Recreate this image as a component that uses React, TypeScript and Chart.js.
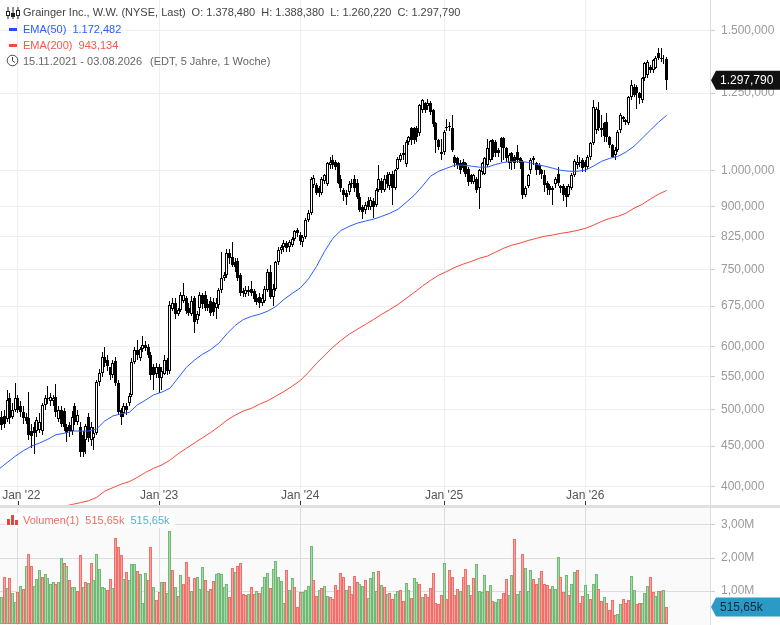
import { Chart, registerables } from "chart.js";
import { useEffect, useRef } from "react";

Chart.register(...registerables);

// weekly candles, 15.11.2021 - 03.08.2026
const opens = [
  495, 490, 491, 487, 517, 490, 500, 517, 505, 497,
  490, 488, 470, 475, 470, 472, 470, 507, 517, 512,
  512, 519, 487, 500, 498, 475, 478, 470, 505, 483,
  475, 465, 458, 490, 458, 460, 468, 541, 556, 583,
  578, 566, 552, 575, 540, 500, 495, 505, 510, 522,
  574, 594, 580, 596, 603, 600, 586, 565, 555, 566,
  548, 555, 578, 560, 670, 680, 660, 668, 685, 690,
  672, 660, 690, 648, 672, 696, 696, 678, 684, 682,
  672, 676, 706, 731, 738, 788, 778, 766, 768, 738,
  705, 698, 702, 710, 705, 690, 692, 680, 685, 708,
  745, 692, 710, 766, 793, 800, 811, 800, 805, 820,
  840, 830, 812, 825, 865, 883, 957, 957, 950, 936,
  970, 960, 1015, 1030, 1025, 1020, 975, 945, 935, 938,
  960, 975, 965, 925, 900, 890, 915, 900, 915, 905,
  945, 970, 945, 985, 955, 990, 950, 1005, 1030, 1045,
  1018, 1084, 1129, 1130, 1130, 1113, 1190, 1215, 1205, 1215,
  1190, 1145, 1091, 1048, 1054, 1130, 1132, 1130, 1040, 1035,
  1020, 1025, 1020, 1005, 985, 966, 975, 950, 995, 990,
  1015, 1030, 1090, 1085, 1060, 1097, 1097, 1066, 1020, 1050,
  1040, 1055, 1035, 1025, 930, 955, 1000, 1030, 1020, 1015,
  1000, 985, 965, 955, 950, 960, 990, 955, 955, 950,
  930, 950, 986, 1015, 1020, 1029, 1025, 1010, 1038, 1081,
  1125, 1190, 1130, 1145, 1150, 1100, 1075, 1045, 1060, 1123,
  1160, 1150, 1146, 1235, 1272, 1272, 1250, 1225, 1305, 1316,
  1350, 1335, 1344, 1404, 1385, 1378, 1378.48,
];
const closes = [
  480, 478, 480, 514, 488, 500, 517, 500, 497, 488,
  484, 465, 463, 468, 485, 483, 507, 517, 515, 518,
  517, 496, 499, 480, 476, 468, 470, 490, 483, 493,
  442, 442, 477, 460, 475, 468, 541, 556, 583, 572,
  568, 552, 572, 540, 497, 490, 505, 500, 520, 574,
  594, 585, 596, 603, 598, 586, 552, 552, 566, 548,
  560, 578, 560, 676, 680, 660, 668, 696, 696, 665,
  662, 685, 644, 660, 696, 678, 672, 672, 662, 664,
  680, 706, 731, 738, 788, 775, 760, 755, 732, 700,
  700, 708, 708, 700, 688, 682, 680, 690, 710, 745,
  692, 710, 766, 793, 800, 810, 798, 812, 820, 838,
  833, 815, 825, 865, 883, 975, 978, 936, 936, 975,
  985, 1020, 1025, 1015, 1010, 965, 950, 930, 925, 960,
  965, 950, 925, 892, 885, 905, 900, 918, 900, 945,
  975, 945, 975, 960, 988, 950, 1000, 1032, 1045, 1050,
  1084, 1100, 1091, 1091, 1100, 1207, 1225, 1190, 1215, 1185,
  1142, 1091, 1069, 1054, 1117, 1135, 1138, 1060, 1020, 1015,
  1000, 1006, 990, 966, 966, 985, 944, 1000, 1020, 1035,
  1066, 1088, 1040, 1050, 1050, 1070, 1066, 1035, 1045, 1025,
  1022, 1030, 1020, 930, 950, 985, 1030, 1035, 1000, 1000,
  990, 957, 950, 945, 945, 975, 965, 950, 930, 925,
  955, 986, 1026, 1025, 1025, 1006, 1008, 1040, 1081, 1200,
  1195, 1129, 1125, 1105, 1100, 1075, 1040, 1060, 1117, 1172,
  1165, 1155, 1235, 1279, 1245, 1250, 1232, 1305, 1363, 1370,
  1335, 1375, 1383, 1383, 1380, 1380, 1297.79,
];
const highs = [
  500, 498, 500, 530, 525, 510, 540, 522, 512, 505,
  495, 526, 480, 482, 490, 495, 510, 522, 535, 525,
  522, 538, 505, 505, 503, 480, 482, 498, 510, 500,
  482, 470, 480, 495, 482, 475, 545, 562, 590, 600,
  585, 560, 578, 582, 545, 503, 510, 510, 525, 580,
  600, 612, 600, 618, 610, 605, 590, 570, 572, 570,
  565, 585, 580, 685, 690, 690, 672, 702, 722, 695,
  680, 695, 695, 665, 702, 700, 705, 688, 692, 690,
  690, 712, 790, 745, 795, 795, 812, 775, 775, 742,
  712, 715, 716, 725, 710, 698, 700, 698, 715, 752,
  760, 720, 770, 800, 806, 818, 815, 818, 825, 842,
  845, 836, 830, 870, 890, 980, 985, 965, 955, 980,
  990, 1025, 1040, 1045, 1030, 1025, 985, 950, 945, 968,
  975, 985, 975, 935, 905, 912, 925, 925, 922, 950,
  1015, 978, 985, 995, 995, 998, 1005, 1040, 1052, 1075,
  1090, 1105, 1135, 1135, 1136, 1212, 1228, 1220, 1230, 1222,
  1195, 1150, 1095, 1095, 1122, 1160, 1150, 1175, 1045, 1040,
  1030, 1032, 1025, 1010, 990, 990, 980, 1005, 1025, 1040,
  1095, 1092, 1095, 1090, 1066, 1100, 1102, 1070, 1050, 1055,
  1045, 1075, 1040, 1030, 955, 990, 1035, 1042, 1025, 1020,
  1005, 1000, 970, 960, 955, 980, 1010, 958, 960, 955,
  960, 992, 1032, 1045, 1040, 1035, 1030, 1045, 1085, 1225,
  1200, 1218, 1175, 1150, 1180, 1105, 1080, 1070, 1125, 1180,
  1170, 1160, 1240, 1300, 1285, 1280, 1255, 1310, 1368, 1375,
  1355, 1380, 1390, 1424, 1425, 1395, 1388.38,
];
const lows = [
  475, 472, 474, 482, 480, 486, 497, 495, 490, 480,
  480, 458, 448, 440, 462, 468, 465, 500, 508, 505,
  505, 490, 482, 475, 470, 455, 462, 465, 478, 478,
  436, 436, 440, 455, 450, 445, 465, 535, 550, 565,
  560, 545, 548, 535, 492, 478, 490, 492, 505, 518,
  570, 578, 575, 590, 592, 580, 545, 530, 548, 525,
  530, 552, 552, 555, 665, 650, 655, 664, 680, 660,
  655, 655, 625, 640, 655, 670, 665, 665, 655, 655,
  650, 670, 700, 725, 732, 762, 755, 745, 725, 695,
  692, 692, 695, 695, 682, 676, 672, 675, 680, 702,
  688, 675, 705, 760, 785, 790, 790, 790, 800, 815,
  825, 805, 800, 820, 860, 878, 950, 930, 925, 930,
  960, 955, 1005, 1005, 1000, 960, 940, 915, 905, 930,
  950, 940, 920, 885, 868, 880, 890, 890, 870, 900,
  940, 935, 940, 950, 945, 905, 945, 1000, 1025, 1030,
  1010, 1075, 1075, 1080, 1085, 1105, 1180, 1180, 1190, 1175,
  1135, 1050, 1060, 1030, 1045, 1120, 1120, 1055, 1010, 1005,
  990, 995, 980, 955, 960, 960, 935, 895, 985, 985,
  1010, 1025, 1030, 1040, 1040, 1025, 1030, 1025, 1005, 1000,
  1005, 1020, 1005, 919, 925, 950, 990, 1015, 985, 985,
  975, 940, 930, 930, 905, 950, 955, 935, 915, 900,
  925, 945, 980, 1005, 1010, 995, 995, 1005, 1030, 1075,
  1110, 1120, 1100, 1085, 1085, 1065, 1035, 1030, 1055, 1115,
  1150, 1140, 1140, 1225, 1235, 1195, 1210, 1215, 1295, 1305,
  1325, 1325, 1340, 1375, 1370, 1360, 1260.22,
];

const emaStep = 3;
const ema50 = [
  421, 429, 437, 444, 450, 454, 459, 465, 467, 470,
  470, 470, 473, 484, 491, 494, 496, 507, 514, 522,
  526, 532, 548, 565, 577, 587, 595, 606, 623, 638,
  649, 655, 659, 665, 674, 688, 700, 711, 730, 757,
  791, 821, 840, 850, 858, 863, 868, 875, 883, 893,
  911, 930, 955, 983, 997, 1006, 1015, 1015, 1012, 1009,
  1009, 1017, 1023, 1026, 1026, 1023, 1017, 1012, 1006, 1000,
  997, 997, 1000, 1012, 1026, 1035, 1041, 1054, 1072, 1097,
  1123, 1149, 1172.482,
];
const ema200 = [
  340, 345, 350, 355, 360, 365, 370, 374, 378, 380,
  382, 384, 388, 395, 399, 403, 406, 411, 417, 422,
  426, 432, 440, 447, 454, 461, 468, 476, 485, 492,
  498, 502, 508, 513, 520, 527, 535, 544, 557, 572,
  585, 599, 611, 622, 631, 640, 649, 659, 668, 678,
  690, 702, 715, 727, 738, 746, 755, 762, 768, 775,
  780, 789, 798, 805, 810, 816, 821, 826, 829, 833,
  836, 840, 845, 853, 862, 870, 875, 883, 896, 906,
  920, 933, 943.134,
];

// volume in millions, g = up week, r = down week
const volumes = [
  0.83, 0.83, 1.43, 1.08, 1.38, 0.95, 0.68, 0.98, 1.16, 1.05,
  1.77, 2.12, 1.77, 1.16, 1.35, 1.64, 1.43, 1.51, 1.38, 1.2,
  1.28, 1.2, 1.26, 1.99, 1.86, 1.77, 1.33, 1.13, 1.13, 1.01,
  2.08, 1.13, 1.26, 1.23, 1.84, 1.33, 2.12, 1.66, 1.13, 1.08,
  1.03, 1.35, 1.08, 2.6, 2.32, 2.08, 1.35, 1.57, 1.33, 1.81,
  1.81, 1.6, 1.51, 0.63, 1.54, 1.33, 2.32, 1.11, 0.73, 0.98,
  1.28, 1.28, 0.93, 2.82, 1.64, 1.11, 0.85, 1.47, 1.2, 1.87,
  1.41, 1.01, 1.38, 1.41, 1.05, 1.72, 1.33, 1.0, 1.05, 1.31,
  1.51, 1.54, 1.51, 1.11, 1.2, 0.83, 1.69, 1.57, 1.77, 1.84,
  0.9, 0.87, 0.9, 1.13, 0.9, 1.01, 0.95, 1.11, 1.41, 1.54,
  1.08, 1.66, 1.9, 1.41, 1.29, 0.63, 1.63, 1.03, 1.38, 1.11,
  0.51, 0.97, 0.96, 1.03, 1.15, 2.35, 1.32, 0.84, 1.02, 1.08,
  1.14, 0.84, 0.81, 0.75, 1.17, 1.03, 1.54, 1.41, 1.02, 1.14,
  0.9, 1.44, 1.26, 1.21, 1.15, 1.32, 0.78, 1.38, 1.57, 0.99,
  1.6, 1.17, 1.11, 0.9, 0.93, 0.75, 0.9, 0.99, 1.02, 0.69,
  1.23, 1.02, 0.78, 1.38, 1.26, 1.2, 0.81, 0.9, 0.81, 1.08,
  1.54, 0.63, 0.6, 0.87, 1.84, 0.75, 1.63, 1.41, 0.87, 1.05,
  0.99, 1.41, 1.66, 1.17, 0.87, 1.38, 1.81, 0.99, 0.96, 1.47,
  0.99, 1.17, 0.69, 0.66, 0.75, 0.75, 0.93, 1.35, 0.87, 1.47,
  2.57, 0.9, 1.0, 2.11, 1.69, 1.01, 1.64, 1.35, 1.2, 1.38,
  1.6, 1.2, 1.17, 1.05, 1.14, 1.05, 2.02, 1.41, 0.96, 1.47,
  0.87, 1.2, 1.57, 1.63, 0.63, 0.84, 1.17, 0.9, 0.75, 1.2,
  1.51, 1.05, 0.69, 0.81, 0.63, 0.41, 0.72, 0.26, 0.29, 0.6,
  0.75, 0.63, 0.72, 1.44, 1.02, 0.6, 0.63, 0.63, 0.93, 1.14,
  1.41, 0.96, 0.84, 0.99, 0.99, 1.02, 0.52,
];
const volumeSides = (
  "ggrgrggrgr" + "grrgggrggg" + "grggrgrggr" + "rgrgrggggg" + "rrgrrrgrgg" +
  "grgggrrgrr" + "grggrgrgrr" + "rgrgggrgrr" + "gggggrrgrr" + "rrgrrgrggg" +
  "rgggggrggr" + "rrggggrrgr" + "ggrrrrrrgr" + "rrrggrgggg" + "rgrgrrggrr" +
  "ggrggrgrrr" + "rrrrgrrrrr" + "grrgrrgggg" + "rgrggrrrgg" + "rggrgggrrg" +
  "rrrrgggrrg" + "rggrrrggrg" + "grrgrrrrgg" + "rrrggrrggg" + "rrggrgr"
).split("");

const priceTicks = [400, 450, 500, 550, 600, 675, 750, 825, 900, 1000, 1250, 1500];
const volumeTicks = [1, 2, 3];
const yearWeeks = [7, 59, 111, 164, 216];
const yearLabels = ["Jan '22", "Jan '23", "Jan '24", "Jan '25", "Jan '26"];
const lastPriceLabel = "1.297,790";
const lastVolume = 0.51565;
const lastVolumeLabel = "515,65k";

const FONT = '"Liberation Sans", Arial, sans-serif';
const WEEK_MIN = 0.37;
const WEEK_MAX = 261.97;
const AXIS_WIDTH = 70;

const formatPrice = (v: number) =>
  v.toLocaleString("de-DE", { minimumFractionDigits: 3, maximumFractionDigits: 3 });

const drawTag = (ctx: any, x: number, y: number, text: string, bg: string, fg: string) => {
  ctx.save();
  ctx.fillStyle = bg;
  ctx.beginPath();
  ctx.moveTo(x + 1, y);
  ctx.lineTo(x + 6, y - 9.5);
  ctx.lineTo(780, y - 9.5);
  ctx.lineTo(780, y + 9.5);
  ctx.lineTo(x + 6, y + 9.5);
  ctx.closePath();
  ctx.fill();
  ctx.fillStyle = fg;
  ctx.font = `12px ${FONT}`;
  ctx.textBaseline = "middle";
  ctx.textAlign = "left";
  ctx.fillText(text, x + 10, y + 0.5);
  ctx.restore();
};

// keeps the thin bars on whole pixels, otherwise they wash out to grey
const snapBars = {
  id: "snapBars",
  afterDatasetsUpdate(chart: any) {
    chart.getSortedVisibleDatasetMetas().forEach((meta: any) => {
      if (meta.type !== "bar") return;
      meta.data.forEach((el: any) => {
        el.x = Math.round(el.x - 0.5) + 0.5;
        el.y = Math.round(el.y);
        el.base = Math.round(el.base);
      });
    });
  },
};

const priceOverlay = {
  id: "priceOverlay",
  afterDraw(chart: any) {
    const { ctx, scales } = chart;
    ctx.save();
    ctx.strokeStyle = "#333";
    scales.x.ticks.forEach((t: any) => {
      const px = Math.round(scales.x.getPixelForValue(t.value)) + 0.5;
      ctx.beginPath();
      ctx.moveTo(px, 501);
      ctx.lineTo(px, 505);
      ctx.stroke();
    });
    ctx.restore();
    drawTag(ctx, chart.chartArea.right, scales.y.getPixelForValue(closes[closes.length - 1]), lastPriceLabel, "#111", "#fff");
  },
};

const volumeOverlay = {
  id: "volumeOverlay",
  afterDraw(chart: any) {
    drawTag(chart.ctx, chart.chartArea.right, chart.scales.y.getPixelForValue(lastVolume), lastVolumeLabel, "#2b9ac6", "#0c2a3a");
  },
};

const noPadding = (scale: any) => {
  scale.paddingTop = 0;
  scale.paddingBottom = 0;
  scale.paddingLeft = 0;
  scale.paddingRight = 0;
};

const weekScale = (gridColor: string, showLabels: boolean) => ({
  type: "linear" as const,
  min: WEEK_MIN,
  max: WEEK_MAX,
  offset: false,
  afterBuildTicks(scale: any) {
    scale.ticks = yearWeeks.map((value) => ({ value }));
  },
  afterFit(scale: any) {
    scale.height = 0;
    noPadding(scale);
  },
  border: { display: false },
  grid: { color: gridColor, drawTicks: false, offset: false },
  ticks: {
    display: showLabels,
    autoSkip: false,
    maxRotation: 0,
    mirror: true,
    padding: 2,
    color: "#555",
    font: { family: FONT, size: 12 },
    // the first label is pushed in from the left edge
    callback: (v: any) => {
      const i = yearWeeks.indexOf(v);
      return i === 0 ? "\u00a0\u00a0" + yearLabels[i] : yearLabels[i];
    },
  },
});

function PriceChart() {
  const ref = useRef<HTMLCanvasElement | null>(null);
  useEffect(() => {
    if (!ref.current) return;
    const wickData = lows.map((l, i) => ({ x: i, y: [l, highs[i]] }));
    const bodyData = opens.map((o, i) => ({ x: i, y: [o, closes[i]] }));
    const c = new Chart(ref.current, {
      type: "bar",
      data: {
        datasets: [
          {
            type: "line",
            data: ema200.map((y, i) => ({ x: i * emaStep, y })),
            borderColor: "#f8493a",
            borderWidth: 1,
            pointRadius: 0,
            order: 0,
          },
          {
            type: "line",
            data: ema50.map((y, i) => ({ x: i * emaStep, y })),
            borderColor: "#2a5cff",
            borderWidth: 1,
            pointRadius: 0,
            order: 0,
          },
          {
            data: bodyData,
            barThickness: 3,
            grouped: false,
            borderWidth: 1,
            borderSkipped: false,
            borderColor: "#000",
            inflateAmount: 0,
            backgroundColor: opens.map((o, i) => (closes[i] >= o ? "#fff" : "#000")),
            order: 1,
          },
          {
            data: wickData,
            barThickness: 1,
            grouped: false,
            borderWidth: 0,
            inflateAmount: 0,
            backgroundColor: "#000",
            order: 2,
          },
        ] as any,
      },
      options: {
        animation: false,
        responsive: false,
        events: [],
        layout: { padding: 0 },
        plugins: { legend: { display: false }, tooltip: { enabled: false } },
        scales: {
          x: weekScale("#eeeeee", true) as any,
          y: {
            type: "logarithmic",
            position: "right",
            min: 379.4,
            max: 1637,
            afterBuildTicks(scale: any) {
              scale.ticks = priceTicks.map((value) => ({ value }));
            },
            afterFit(scale: any) {
              scale.width = AXIS_WIDTH;
              noPadding(scale);
            },
            border: { color: "#dddddd" },
            grid: { color: "#eeeeee", tickColor: "#cccccc", tickLength: 5 },
            ticks: {
              autoSkip: false,
              padding: 6,
              color: "#9a9a9a",
              font: { family: FONT, size: 12 },
              callback: (v: any) => formatPrice(Number(v)),
            },
          } as any,
        },
      },
      plugins: [snapBars, priceOverlay],
    });
    return () => c.destroy();
  }, []);
  return (
    <canvas
      ref={ref}
      width={780}
      height={505}
      style={{ position: "absolute", left: 0, top: 0, width: 780, height: 505 }}
    />
  );
}

function VolumeChart() {
  const ref = useRef<HTMLCanvasElement | null>(null);
  useEffect(() => {
    if (!ref.current) return;
    const isUp = volumeSides.map((s) => s === "g");
    const c = new Chart(ref.current, {
      type: "bar",
      data: {
        datasets: [
          {
            data: volumes.map((y, x) => ({ x, y })),
            barThickness: 3,
            borderWidth: 1,
            borderSkipped: false,
            inflateAmount: 0,
            backgroundColor: isUp.map((u) => (u ? "#a8d9a8" : "#f9a3a1")),
            borderColor: isUp.map((u) => (u ? "#72b876" : "#ef706a")),
          },
        ] as any,
      },
      options: {
        animation: false,
        responsive: false,
        events: [],
        layout: { padding: 0 },
        plugins: { legend: { display: false }, tooltip: { enabled: false } },
        scales: {
          x: weekScale("#dddddd", false) as any,
          y: {
            type: "linear",
            position: "right",
            min: -0.03,
            max: 3.515,
            afterBuildTicks(scale: any) {
              scale.ticks = volumeTicks.map((value) => ({ value }));
            },
            afterFit(scale: any) {
              scale.width = AXIS_WIDTH;
              noPadding(scale);
            },
            border: { color: "#dddddd" },
            grid: { color: "#dddddd", tickColor: "#cccccc", tickLength: 5 },
            ticks: {
              autoSkip: false,
              padding: 6,
              color: "#9a9a9a",
              font: { family: FONT, size: 12 },
              callback: (v: any) => `${v},00M`,
            },
          } as any,
        },
      },
      plugins: [snapBars, volumeOverlay],
    });
    return () => c.destroy();
  }, []);
  return (
    <canvas
      ref={ref}
      width={780}
      height={117}
      style={{ position: "absolute", left: 0, top: 508, width: 780, height: 117 }}
    />
  );
}

const rowStyle = (top: number, color: string) => ({
  position: "absolute" as const,
  left: 23,
  top,
  color,
  font: `11px/16px ${FONT}`,
  whiteSpace: "pre" as const,
});

function Legend() {
  return (
    <>
      <svg width="14" height="12" style={{ position: "absolute", left: 6, top: 7 }}>
        <path d="M2 0V12M7 0V12M12 0V12" stroke="#222" strokeWidth="1" />
        <rect x="0.5" y="4.5" width="3" height="4" fill="#fff" stroke="#222" />
        <rect x="5.5" y="6.5" width="3" height="3" fill="#222" stroke="#222" />
        <rect x="10.5" y="3.5" width="3" height="5" fill="#fff" stroke="#222" />
      </svg>
      <div style={{ ...rowStyle(4, "#444") }}>
        Grainger Inc., W.W. (NYSE, Last)
        <span style={{ marginLeft: 6 }}>O: 1.378,480</span>
        <span style={{ marginLeft: 6 }}>H: 1.388,380</span>
        <span style={{ marginLeft: 6 }}>L: 1.260,220</span>
        <span style={{ marginLeft: 6 }}>C: 1.297,790</span>
      </div>
      <div style={{ position: "absolute", left: 9, top: 28, width: 8, height: 3, background: "#1f4fff" }} />
      <div style={{ ...rowStyle(21, "#2a5cff") }}>
        EMA(50)
        <span style={{ marginLeft: 6 }}>1.172,482</span>
      </div>
      <div style={{ position: "absolute", left: 9, top: 44, width: 8, height: 3, background: "#f8493a" }} />
      <div style={{ ...rowStyle(37, "#f8574a") }}>
        EMA(200)
        <span style={{ marginLeft: 6 }}>943,134</span>
      </div>
      <svg width="13" height="13" style={{ position: "absolute", left: 6, top: 54 }}>
        <circle cx="6.5" cy="6.5" r="5.3" fill="none" stroke="#444" strokeWidth="1" />
        <path d="M6.5 3V6.8L9 8.5" fill="none" stroke="#444" strokeWidth="1" />
      </svg>
      <div style={{ ...rowStyle(53, "#666") }}>
        15.11.2021 - 03.08.2026
        <span style={{ marginLeft: 8 }}>(EDT, 5 Jahre, 1 Woche)</span>
      </div>
      <div
        style={{
          position: "absolute",
          left: 5,
          top: 513,
          width: 170,
          height: 15,
          background: "rgba(255,255,255,0.85)",
        }}
      />
      <svg width="12" height="10" style={{ position: "absolute", left: 7, top: 515 }}>
        <rect x="0" y="4" width="3" height="6" fill="#e5473f" />
        <rect x="4" y="0" width="3" height="10" fill="#e5473f" />
        <rect x="8" y="5" width="3" height="5" fill="#e5473f" />
      </svg>
      <div style={{ ...rowStyle(512, "#ee6a62") }}>
        Volumen(1)
        <span style={{ marginLeft: 6 }}>515,65k</span>
        <span style={{ marginLeft: 6, color: "#4fb0d6" }}>515,65k</span>
      </div>
    </>
  );
}

export default function App() {
  useEffect(() => {
    document.body.style.margin = "0";
  }, []);
  return (
    <div style={{ position: "absolute", left: 0, top: 0, width: 780, height: 625, background: "#fff", overflow: "hidden" }}>
      <div style={{ position: "absolute", left: 0, top: 505, width: 780, height: 3, background: "#e0e0e0" }} />
      <div style={{ position: "absolute", left: 0, top: 508, width: 710, height: 117, background: "#fafafa" }} />
      <PriceChart />
      <VolumeChart />
      <Legend />
    </div>
  );
}
